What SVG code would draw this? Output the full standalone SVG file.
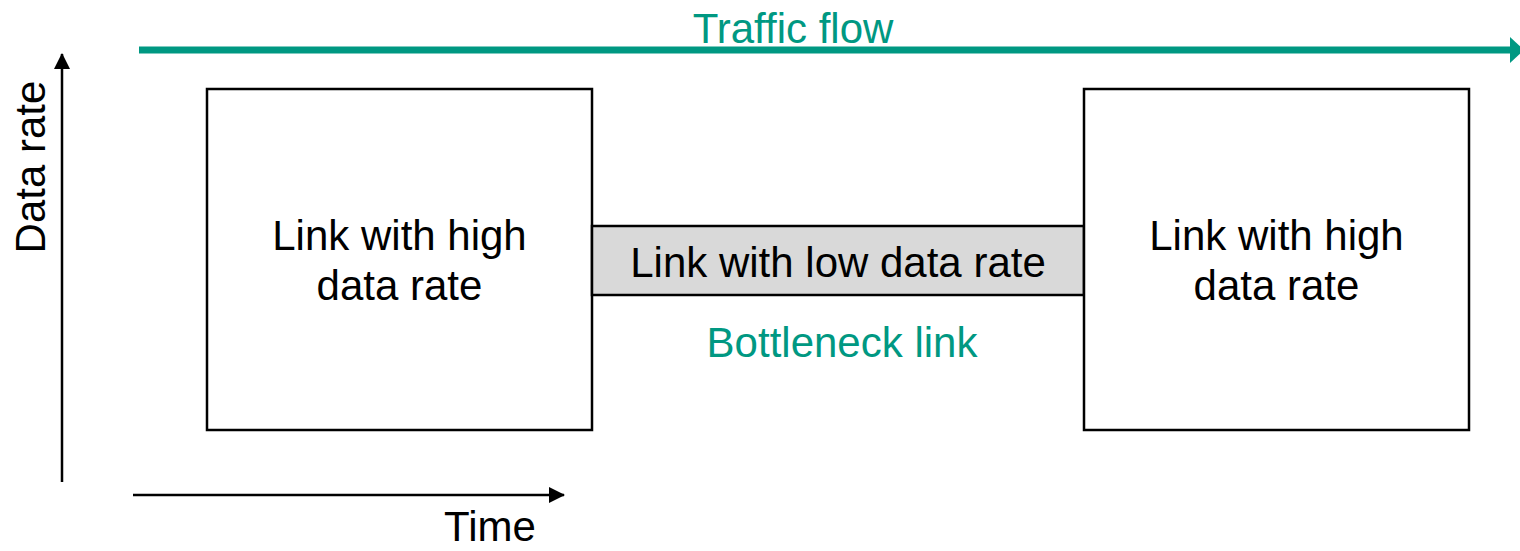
<svg xmlns="http://www.w3.org/2000/svg" width="1520" height="551" viewBox="0 0 1520 551">
  <style>
    text { font-family: "Liberation Sans", Arial, sans-serif; font-size: 42px; fill: #000; text-anchor: middle; }
    .teal { fill: #009882; }
    .box { fill: #fff; stroke: #000; stroke-width: 2.5; }
    .narrow { fill: #d9d9d9; stroke: #000; stroke-width: 2.5; }
    .axis { stroke: #000; stroke-width: 2.5; fill: none; }
  </style>
  <defs>
    <marker id="arrowBlack" markerUnits="userSpaceOnUse" markerWidth="16" markerHeight="16" refX="15" refY="8" orient="auto">
      <path d="M0,0 L16,8 L0,16 Z" fill="#000"/>
    </marker>
    <marker id="arrowTeal" markerUnits="userSpaceOnUse" markerWidth="14" markerHeight="26" refX="6" refY="13" orient="auto">
      <path d="M0,0 L14,13 L0,26 Z" fill="#009882"/>
    </marker>
  </defs>

  <!-- axes and traffic direction -->
  <g id="connectors">
    <line class="axis" x1="62" y1="482" x2="62" y2="54" marker-end="url(#arrowBlack)"/>
    <line class="axis" x1="133" y1="495" x2="564" y2="495" marker-end="url(#arrowBlack)"/>
    <line x1="139" y1="50" x2="1516" y2="50" stroke="#009882" stroke-width="7" marker-end="url(#arrowTeal)"/>
  </g>

  <g id="axis-labels">
    <text x="45" y="167" transform="rotate(-90 45 167)">Data rate</text>
    <text x="490" y="541">Time</text>
    <text class="teal" x="793" y="43">Traffic flow</text>
  </g>

  <g id="link-left">
    <rect class="box" x="207" y="89" width="385" height="341"/>
    <text x="399.5" y="250">Link with high</text>
    <text x="399.5" y="300">data rate</text>
  </g>

  <g id="link-bottleneck">
    <rect class="narrow" x="592" y="226" width="492" height="69"/>
    <text x="838" y="277">Link with low data rate</text>
    <text class="teal" x="842" y="357">Bottleneck link</text>
  </g>

  <g id="link-right">
    <rect class="box" x="1084" y="89" width="385" height="341"/>
    <text x="1276.5" y="250">Link with high</text>
    <text x="1276.5" y="300">data rate</text>
  </g>
</svg>
